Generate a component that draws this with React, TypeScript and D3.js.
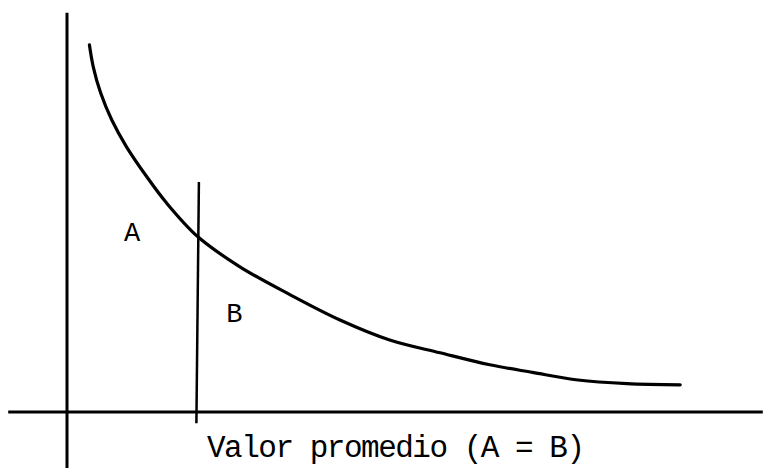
import React from "react";
import * as d3 from "d3";

const W = 763;
const H = 468;

// Curve (x in arbitrary units 0..100 along the value axis, y frequency 0..100)
const curveX = [3.2, 3.75, 4.8, 6.4, 8.5, 11.4, 14.2, 18.7, 24.7, 31.9, 39.0, 46.1, 53.3, 60.4, 66.5, 73.0, 80.0, 87.6];
const curveY = [91.8, 86.3, 79.8, 73.0, 66.3, 58.8, 52.3, 43.8, 36.3, 29.3, 23.0, 18.0, 14.8, 11.8, 9.9, 8.0, 7.1, 6.8];

// Mean value (A = B)
const meanX = 18.7;
const meanLineY = [57.5, -2.8];

// Axis extents
const xAxisExtent = [-8.4, 99.4];
const yAxisExtent = [99.8, -14.0];

const regionLabels = ["A", "B"];
const regionX = [9.3, 23.9];
const regionY = [42.8, 22.5];

const axisTitle = "Valor promedio (A = B)";

export default function App() {
  const x = d3.scaleLinear().domain([0, 100]).range([67, 767]);
  const y = d3.scaleLinear().domain([0, 100]).range([412, 12]);

  const pts: [number, number][] = curveX.map((v, i) => [v, curveY[i]]);
  const line = d3
    .line<[number, number]>()
    .x((d) => x(d[0]))
    .y((d) => y(d[1]))
    .curve(d3.curveCatmullRom.alpha(0.5));

  const font = "'Liberation Mono', 'DejaVu Sans Mono', monospace";

  return (
    <svg
      width={W}
      height={H}
      style={{ position: "absolute", left: 0, top: 0, background: "#fff" }}
    >
      <rect x={0} y={0} width={W} height={H} fill="#fff" />
      {/* horizontal axis */}
      <line x1={x(xAxisExtent[0])} x2={x(xAxisExtent[1])} y1={y(0)} y2={y(0)} stroke="#000" strokeWidth={3} />
      {/* vertical axis */}
      <line x1={x(0)} x2={x(0)} y1={y(yAxisExtent[0])} y2={y(yAxisExtent[1])} stroke="#000" strokeWidth={3} />
      {/* mean line */}
      <line x1={x(meanX) + 1} x2={x(meanX) - 1.5} y1={y(meanLineY[0])} y2={y(meanLineY[1])} stroke="#000" strokeWidth={2.5} />
      {/* curve */}
      <path d={line(pts) || ""} fill="none" stroke="#000" strokeWidth={3.2} strokeLinecap="round" />
      {regionLabels.map((t, i) => (
        <text
          key={t}
          x={x(regionX[i])}
          y={y(regionY[i])}
          fontFamily={font}
          fontSize={27}
          textAnchor="middle"
          fill="#000"
        >
          {t}
        </text>
      ))}
      <text
        x={207}
        y={457}
        fontFamily={font}
        fontSize={31}
        textLength={378}
        lengthAdjust="spacing"
        fill="#000"
      >
        {axisTitle}
      </text>
    </svg>
  );
}
